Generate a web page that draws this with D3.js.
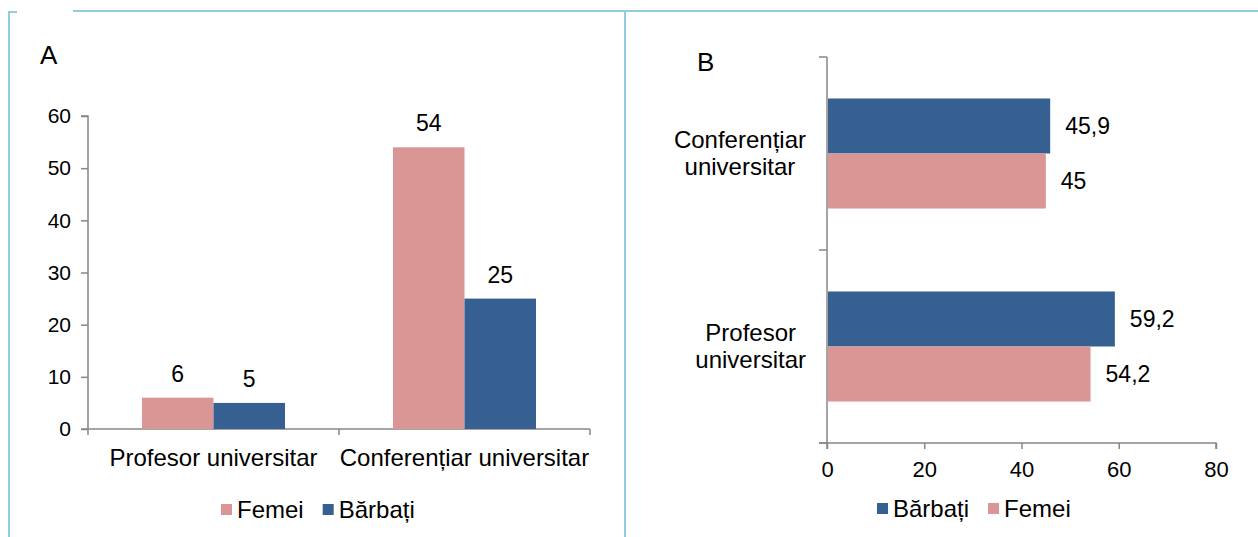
<!DOCTYPE html>
<html>
<head>
<meta charset="utf-8">
<script src="https://cdn.jsdelivr.net/npm/d3@7"></script>
<style>
  body { margin: 0; background: #fff; }
  svg text { font-family: "Liberation Sans", Arial, sans-serif; fill: #000; }
  .axis path, .axis line { stroke: #878787; stroke-width: 1.5; }
</style>
</head>
<body>
<svg id="chart" width="1258" height="537"></svg>
<script>
// Panel A: counts by rank
var rolesA = ["Profesor universitar", "Conferențiar universitar"];
var femeiA = [6, 54];
var barbatiA = [5, 25];
var ticksA = [0, 10, 20, 30, 40, 50, 60];

// Panel B: mean age by rank (top to bottom)
var rolesB = ["Conferențiar universitar", "Profesor universitar"];
var barbatiB = [45.9, 59.2];
var femeiB = [45, 54.2];
var ticksB = [0, 20, 40, 60, 80];

var colors = { "Femei": "#d99694", "Bărbați": "#376092" };
var fmt = d3.formatLocale({ decimal: ",", thousands: ".", grouping: [3], currency: ["", ""] }).format("~g");

var svg = d3.select("#chart");

// frame lines
var border = "#93cddd";
svg.append("line").attr("x1", 8).attr("x2", 17).attr("y1", 12).attr("y2", 12).attr("stroke", border).attr("stroke-width", 2);
svg.append("line").attr("x1", 73).attr("x2", 1258).attr("y1", 11).attr("y2", 11).attr("stroke", border).attr("stroke-width", 2);
svg.append("line").attr("x1", 9).attr("x2", 9).attr("y1", 11).attr("y2", 537).attr("stroke", border).attr("stroke-width", 2);
svg.append("line").attr("x1", 625).attr("x2", 625).attr("y1", 11).attr("y2", 537).attr("stroke", border).attr("stroke-width", 2);

// ---------- A ----------
var gA = svg.append("g");
gA.append("text").attr("x", 40).attr("y", 64).attr("font-size", 26).text("A");

var seriesA = ["Femei", "Bărbați"];
var dataA = rolesA.map(function (r, i) {
    return { role: r, values: [{ key: "Femei", v: femeiA[i] }, { key: "Bărbați", v: barbatiA[i] }] };
});
var xA = d3.scaleBand().domain(rolesA).range([88, 590]).paddingInner(0).paddingOuter(0);
var xA1 = d3.scaleBand().domain(seriesA).range([0, xA.bandwidth()]).paddingInner(0).paddingOuter(0.755);
var yA = d3.scaleLinear().domain([0, 60]).range([429, 116]);

var yAxisA = gA.append("g").attr("class", "axis").attr("transform", "translate(88,0)")
    .call(d3.axisLeft(yA).tickValues(ticksA).tickSize(7).tickPadding(10));
yAxisA.select(".domain").attr("d", "M-7,116H0V429");
yAxisA.selectAll("text").attr("font-size", 21).attr("fill", "#000");

var xAxisA = gA.append("g").attr("class", "axis").attr("transform", "translate(0,429)");
xAxisA.append("line").attr("x1", 81).attr("x2", 590).attr("y1", 0).attr("y2", 0);
xAxisA.selectAll(".tk").data([88].concat(rolesA.map(function (r) { return xA(r) + xA.bandwidth(); })))
    .enter().append("line").attr("class", "tk")
    .attr("x1", function (d) { return d; }).attr("x2", function (d) { return d; })
    .attr("y1", 0).attr("y2", 6);
xAxisA.selectAll(".cat").data(rolesA).enter().append("text")
    .attr("x", function (d) { return xA(d) + xA.bandwidth() / 2; })
    .attr("y", 37).attr("text-anchor", "middle").attr("font-size", 24)
    .text(function (d) { return d; });

var groupsA = gA.selectAll(".grp").data(dataA).enter().append("g")
    .attr("transform", function (d) { return "translate(" + xA(d.role) + ",0)"; });
groupsA.selectAll("rect").data(function (d) { return d.values; }).enter().append("rect")
    .attr("x", function (d) { return xA1(d.key); })
    .attr("width", xA1.bandwidth())
    .attr("y", function (d) { return yA(d.v); })
    .attr("height", function (d) { return yA(0) - yA(d.v); })
    .attr("fill", function (d) { return colors[d.key]; });
groupsA.selectAll(".val").data(function (d) { return d.values; }).enter().append("text")
    .attr("x", function (d) { return xA1(d.key) + xA1.bandwidth() / 2; })
    .attr("y", function (d) { return yA(d.v) - 24; })
    .attr("dy", "0.35em").attr("text-anchor", "middle").attr("font-size", 23)
    .text(function (d) { return fmt(d.v); });

function legend(g, keys, x, y) {
    var cx = x;
    keys.forEach(function (k) {
        g.append("rect").attr("x", cx).attr("y", y - 6).attr("width", 11).attr("height", 11).attr("fill", colors[k]);
        var t = g.append("text").attr("x", cx + 16).attr("y", y).attr("dy", "0.35em").attr("font-size", 24).text(k);
        cx += 16 + t.node().getComputedTextLength() + 19;
    });
}
legend(gA, seriesA, 221, 510);

// ---------- B ----------
var gB = svg.append("g");
gB.append("text").attr("x", 697).attr("y", 71).attr("font-size", 26).text("B");

var seriesB = ["Bărbați", "Femei"];
var dataB = rolesB.map(function (r, i) {
    return { role: r, values: [{ key: "Bărbați", v: barbatiB[i] }, { key: "Femei", v: femeiB[i] }] };
});
var yB = d3.scaleBand().domain(rolesB).range([57, 443]).paddingInner(0).paddingOuter(0);
var yB1 = d3.scaleBand().domain(seriesB).range([0, yB.bandwidth()]).paddingInner(0).paddingOuter(0.754);
var xB = d3.scaleLinear().domain([0, 80]).range([827, 1216]);

var xAxisB = gB.append("g").attr("class", "axis").attr("transform", "translate(0,443)")
    .call(d3.axisBottom(xB).tickValues(ticksB).tickSize(6).tickPadding(12));
xAxisB.select(".domain").attr("d", "M819,0H1216V6");
xAxisB.selectAll("text").attr("font-size", 22).attr("fill", "#000");

var yAxisB = gB.append("g").attr("class", "axis");
yAxisB.append("line").attr("x1", 827).attr("x2", 827).attr("y1", 57).attr("y2", 449);
yAxisB.selectAll(".tk").data([57].concat(rolesB.map(function (r) { return yB(r) + yB.bandwidth(); })))
    .enter().append("line").attr("class", "tk")
    .attr("x1", 819).attr("x2", 827)
    .attr("y1", function (d) { return d; }).attr("y2", function (d) { return d; });

// two-line category labels, block right-aligned, lines centred inside it
rolesB.forEach(function (r) {
    var words = r.split(" ");
    var lab = yAxisB.append("text").attr("font-size", 24).attr("text-anchor", "middle");
    var cy = yB(r) + yB.bandwidth() / 2;
    var spans = words.map(function (w, i) {
        return lab.append("tspan").attr("y", cy + (i - 0.5) * 27).attr("dy", "0.35em").text(w);
    });
    var maxW = d3.max(spans, function (s) { return s.node().getComputedTextLength(); });
    spans.forEach(function (s) { s.attr("x", 806 - maxW / 2); });
});

var groupsB = gB.selectAll(".grp").data(dataB).enter().append("g")
    .attr("transform", function (d) { return "translate(0," + yB(d.role) + ")"; });
groupsB.selectAll("rect").data(function (d) { return d.values; }).enter().append("rect")
    .attr("x", xB(0) + 1)
    .attr("y", function (d) { return yB1(d.key); })
    .attr("height", yB1.bandwidth())
    .attr("width", function (d) { return xB(d.v) - xB(0) - 1; })
    .attr("fill", function (d) { return colors[d.key]; });
groupsB.selectAll(".val").data(function (d) { return d.values; }).enter().append("text")
    .attr("x", function (d) { return xB(d.v) + 15; })
    .attr("y", function (d) { return yB1(d.key) + yB1.bandwidth() / 2; })
    .attr("dy", "0.35em").attr("font-size", 23)
    .text(function (d) { return fmt(d.v); });

legend(gB, seriesB, 877, 509);
</script>
</body>
</html>
